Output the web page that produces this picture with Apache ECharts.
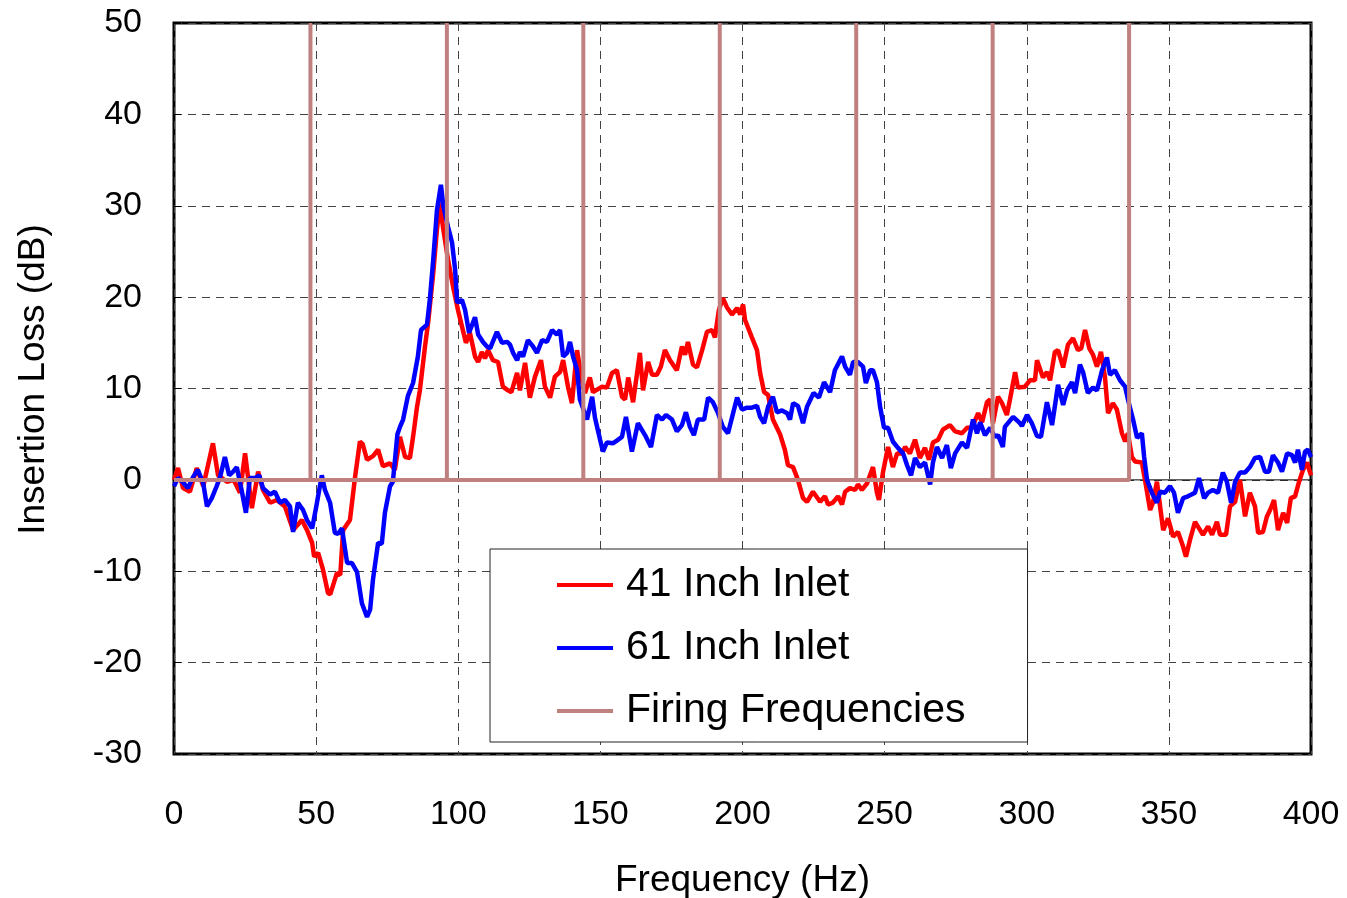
<!DOCTYPE html>
<html>
<head>
<meta charset="utf-8">
<script src="https://cdn.jsdelivr.net/npm/echarts@6/dist/echarts.min.js"></script>
<style>
html,body{margin:0;padding:0;background:#fff;}
#chart{width:1347px;height:898px;}
</style>
</head>
<body>
<div id="chart"></div>
<script>
// ---- Data ----
const red41Freq = [0,1.4,3.2,5.6,8,10.3,13.7,15.5,18.6,21,23.2,25,27.4,29.6,31.3,33.8,36.2,39,41.9,45,46.8,48.6,49.3,50.7,52.4,54.2,55,57.3,58.5,59.5,61.9,63.7,65.4,66.4,67.9,70,71.8,73.5,76,77.7,79.5,81.3,83,84.1,85.5,86.5,88.3,89.4,91.2,92.5,93.6,94.6,96.4,98.2,99.9,101.3,102.7,104.1,105.9,107,108.3,109.4,110.5,112.2,114,115.7,117.5,118.7,120.7,121.7,123.5,125.2,127,129.1,130.5,132.3,134,135.8,136.9,138.6,140,141.1,141.8,143.5,144.6,146.3,147.4,150.6,152.3,154.1,155.8,157.6,158.7,159.8,161.5,163.9,165,166.8,168.2,169.9,171.3,172.7,174.5,176.9,178.7,179.8,180.8,182.6,184,185.8,187.5,189.3,190.3,191.7,193.1,194.5,196.3,198.1,199.2,200.2,200.9,203.3,205.1,206.2,207.6,209,210.7,213.2,214.9,216,217.8,219.5,221.3,222.7,224.8,227.3,229,230.1,231.8,233.6,235,236.1,237.8,239.6,240.6,242,243.8,245.9,247.3,248,249.4,251.2,252.9,254.4,256.1,257.2,258.9,260.7,262.4,264.2,265.6,267,268.8,270.5,273,274.8,277.2,279,280.7,282.9,284.3,286,287.1,288.1,289.9,291.3,293,294.1,295.9,296.9,299.4,301.1,302.9,303.6,305.7,307.1,308.2,309.9,311,312.8,314.5,316.3,318,319.2,320.5,322,323.3,324.7,326.1,327.5,328.6,330.3,331.7,333.5,334.6,335.6,337,338.1,340.5,341.6,343.4,344.4,345.8,346.9,348,349.7,351.5,353.2,355,356,357.4,359.2,361,362,363.8,365.2,366.9,368,370.1,371.5,373.3,375,376.8,378.5,380.3,381.4,383.1,384.5,385.6,387,388.4,390.2,391.6,392.9,394.4,395.8,397.2,398.6,400];
const red41Val = [0,1.3,-0.9,-1.3,1.3,-0.7,4.0,0.5,-0.2,0,-1.4,2.9,-3.1,0.9,-1.1,-2.5,-2.2,-2.9,-5.5,-4.4,-5.5,-6.9,-8.4,-8.0,-9.8,-12.4,-12.5,-10.2,-10.4,-5.5,-4.4,0.3,4.2,3.9,2.2,2.6,3.3,1.5,1.8,1.1,4.7,2.5,2.4,4.7,8.0,9.8,14.6,17.2,22.6,27.4,30.3,27.7,24.1,21.1,18.6,16.8,15.0,16.1,13.5,12.9,14.0,13.3,14.2,13.1,12.9,10.2,9.8,9.6,11.7,9.8,12.8,9.0,11.3,13.1,10.2,9.0,11.3,11.8,13.1,10.2,8.4,12.0,14.2,10.9,9.5,11.2,9.6,10.2,10.1,11.7,12.0,9.1,8.8,11.2,8.5,13.9,9.8,12.9,11.5,11.5,12.4,14.2,13.1,12.0,14.6,13.7,15.1,12.6,12.3,14.2,16.2,16.4,15.6,18.6,19.9,18.9,18.1,18.8,18.1,19.2,17.5,15.6,14.2,11.7,9.6,9.3,6.6,5.0,3.3,1.6,1.4,0.0,-2.0,-2.4,-1.3,-2.4,-1.8,-2.7,-2.5,-1.8,-2.7,-1.3,-0.9,-1.1,-0.5,-1.1,-0.4,1.4,-1.4,-2.2,0.8,3.6,1.4,2.9,2.9,3.6,2.9,4.4,2.4,3.5,2.2,4.1,4.4,5.5,6.0,5.3,5.1,5.7,5.7,7.3,6.3,8.5,8.8,6.2,9.1,8.4,7.1,8.8,11.8,10.1,10.2,10.9,10.9,13.1,11.2,11.8,10.9,14.0,14.2,12.3,14.8,15.5,14.2,14.4,16.4,14.4,13.7,12.4,14.0,11.3,7.3,8.4,7.7,5.1,4.2,5.1,2.5,2.0,1.9,0,-3.3,-2.5,-0.2,-2.9,-5.5,-4.2,-6.2,-5.7,-7.3,-8.4,-6.6,-4.6,-5.5,-6.0,-5.1,-6.0,-4.6,-6.0,-6.0,-2.9,-2.4,0,-4.0,-1.4,-2.9,-5.8,-5.7,-4.0,-3.3,-2.2,-5.5,-3.6,-4.7,-2.0,-1.8,-0.2,1.1,1.9,0.5];

const blue61Freq = [0,1.4,3,4.9,6.7,8.4,10.3,11.6,13.3,15,16.2,17.9,19.4,20.8,22.1,23.9,25.3,26.7,28.5,30,31.3,33.8,35.5,37.3,39,40.8,41.9,43.6,45.4,46.8,48.6,50.3,52,53.1,54.9,56.6,57.7,59.1,60.9,62.6,64.4,66.1,67.9,69,70,71.8,73.1,74.2,76,77,78.6,79.5,80.6,82.3,84.1,85.8,86.9,89,90,91.2,92.5,93.9,94.8,96.4,97.8,98.9,99.6,101.3,102.4,103.8,105.9,107,108.7,110.1,111.2,113.6,115.4,117.2,118.2,119.3,120.7,121.7,122.8,124.5,126.3,127.7,129.5,131.2,133,134.7,135.8,136.9,138.3,139.3,140.4,141.8,142.8,145.3,147.1,148.1,149.9,150.9,152.3,154.4,155.8,157.6,159,161.1,163.2,165.7,167.8,169.9,171.7,173.1,175.2,176.9,178.7,180.1,181.5,182.9,184.3,186.5,187.9,189.6,191.4,193.1,194.9,196.7,198.1,199.8,201.6,203.3,205.1,206.2,207.6,209,210.7,212.1,213.9,215.7,216.7,217.8,219.5,221.3,222.7,225,226.9,228.7,230.8,232.5,235,236.1,237.8,238.9,240.6,242.4,243.4,244.9,245.9,247.3,248.4,249.8,251.2,252.9,254.7,256.5,257.9,259.3,260.7,262.4,264.2,266,267,268.4,270.2,271.9,273.3,274.8,277.2,279,281.1,282.5,283.6,285.3,287.1,288.8,289.9,291.6,292.3,295.2,297.6,298.3,300.1,301.8,303.6,305,307.1,308.9,311,312.8,314.2,315.9,317,318.7,319.8,321.5,323.3,324.7,326.5,328.2,329.3,331,332.8,334.6,335.6,337.4,338.8,340.5,341.3,342.3,344,345.8,346.9,348.6,350.4,351.8,353.2,355,356.7,359.2,360.6,362.4,363.8,365.5,367.3,369,370.4,371.9,373.3,375,376.8,378.5,380.3,382.1,383.8,385.2,386.6,388.4,389.8,391.6,393.3,394.4,395.4,396.8,397.9,398.9,400];
const blue61Val = [-0.7,0.2,-0.2,-0.9,0.3,1.1,-0.4,-2.9,-2.0,-0.7,0.3,2.5,0.5,0.9,1.4,-1.3,-3.6,0.2,0.2,0.5,-0.9,-1.6,-1.3,-2.5,-2.2,-2.9,-5.7,-2.5,-3.3,-4.4,-5.3,-2.5,0.5,-1.1,-2.5,-5.8,-5.9,-5.3,-9.1,-9.1,-10.1,-13.5,-15.0,-14.2,-10.9,-6.9,-7.0,-3.6,-0.7,-0.2,5.0,5.8,6.6,9.2,10.6,13.5,16.4,17.0,19.7,24.1,29.5,32.3,29.9,27.7,26.0,23.0,19.4,19.7,18.6,16.1,17.8,15.9,15.1,14.6,14.4,16.2,15.0,15.1,14.8,13.9,13.1,14.0,13.5,15.3,14.6,13.9,15.3,15.1,16.4,15.9,16.4,13.5,13.9,15.1,13.5,12.0,8.8,6.6,9.1,6.8,4.4,3.1,4.1,4.0,4.3,4.7,6.9,3.1,6.2,4.9,3.6,7.1,6.6,7.1,6.6,5.3,6.0,7.4,5.8,4.9,6.6,6.6,9.0,8.5,7.3,5.8,5.1,7.3,9.0,7.7,7.9,7.9,8.1,6.9,6.2,8.0,9.1,7.4,7.6,7.3,6.6,8.4,8.1,6.2,8.0,9.5,9.0,10.7,9.6,12.0,13.5,12.4,11.5,12.9,12.9,12.4,10.6,12.0,12.0,10.7,8.0,5.7,5.7,4.2,3.5,2.9,1.6,0.5,2.4,1.4,1.9,-0.5,1.9,3.6,2.4,3.8,1.3,2.9,4.1,3.5,6.6,5.1,6.3,4.9,5.7,4.7,4.9,3.6,5.8,6.9,6.2,5.9,7.1,6.2,4.8,4.7,8.5,6.0,10.4,8.2,9.8,10.7,9.5,12.6,11.8,9.5,10.1,9.8,12.0,13.4,11.5,12.0,10.9,10.2,8.8,6.6,4.6,5.1,2.5,0,-1.4,-2.5,-1.3,-1.4,-0.7,-1.4,-3.6,-2.0,-1.8,-1.4,0.2,-2.0,-1.4,-1.1,-1.4,0.8,-0.2,-2.5,-0.2,0.8,0.8,1.4,2.4,2.5,0.9,0.9,2.7,1.9,0.9,2.9,2.7,1.9,3.3,1.1,3.1,3.3,2.5];

const firingFreqs = [48, 96, 144, 192, 240, 288, 336];
const firingBase = 0;
const firingTop = 50;
const zeroLineX = [0, 400];

const xTicks = {min: 0, max: 400, interval: 50};
const yTicks = {min: -30, max: 50, interval: 10};

// ---- Build series data ----
const zip = (a, b) => a.map((v, i) => [v, b[i]]);
const firingData = [[0, firingBase]];
firingFreqs.forEach(f => {
  firingData.push([f, firingBase], [f, firingTop], [f, firingBase]);
});
const zeroData = zeroLineX.map(x => [x, 0]);

const FONT = "'Liberation Sans', Arial, sans-serif";
const chart = echarts.init(document.getElementById('chart'), null, {renderer: 'canvas'});
chart.setOption({
  animation: false,
  backgroundColor: '#fff',
  grid: {left: 174, right: 36, top: 23, bottom: 144, containLabel: false, outerBoundsMode: 'none',
         show: true, borderColor: '#000', borderWidth: 3, backgroundColor: 'transparent'},
  xAxis: {
    type: 'value', min: xTicks.min, max: xTicks.max, interval: xTicks.interval,
    axisLine: {show: false}, axisTick: {show: false},
    splitLine: {show: true, lineStyle: {color: '#444', type: [8, 6], width: 1}},
    axisLabel: {fontSize: 34, color: '#000', margin: 44, fontFamily: FONT},
    name: 'Frequency (Hz)', nameLocation: 'middle', nameGap: 108,
    nameTextStyle: {fontSize: 37, color: '#000', fontFamily: FONT}
  },
  yAxis: {
    type: 'value', min: yTicks.min, max: yTicks.max, interval: yTicks.interval,
    axisLine: {show: false},
    axisTick: {show: true, inside: true, length: 7, lineStyle: {color: '#000', width: 1}},
    splitLine: {show: true, lineStyle: {color: '#444', type: [8, 6], width: 1}},
    axisLabel: {fontSize: 34, color: '#000', margin: 32, fontFamily: FONT, padding: [10, 0, 0, 0]},
    name: 'Insertion Loss (dB)', nameLocation: 'middle', nameGap: 122, nameRotate: 90,
    nameTextStyle: {fontSize: 37, color: '#000', fontFamily: FONT, padding: [0, 0, 0, 18]}
  },
  legend: {
    data: ['41 Inch Inlet', '61 Inch Inlet', 'Firing Frequencies'],
    orient: 'vertical', left: 490, top: 549,
    padding: [12, 62, 7, 67],
    itemGap: 15, itemWidth: 56, itemHeight: 4, icon: 'rect',
    backgroundColor: '#fff', borderColor: '#222', borderWidth: 1,
    textStyle: {fontSize: 41, color: '#000', fontFamily: FONT, lineHeight: 48, padding: [0, 0, 0, 8]}
  },
  series: [
    {name: 'zero', type: 'line', data: zeroData, showSymbol: false, symbol: 'none', silent: true,
     lineStyle: {color: '#000', width: 1}, z: 1},
    {name: '41 Inch Inlet', type: 'line', data: zip(red41Freq, red41Val), symbol: 'none',
     lineStyle: {color: '#FF0000', width: 4.5}, itemStyle: {color: '#FF0000'}, z: 2},
    {name: '61 Inch Inlet', type: 'line', data: zip(blue61Freq, blue61Val), symbol: 'none',
     lineStyle: {color: '#0000FF', width: 4.5}, itemStyle: {color: '#0000FF'}, z: 3},
    {name: 'Firing Frequencies', type: 'line', data: firingData, symbol: 'none',
     lineStyle: {color: '#C08080', width: 4}, itemStyle: {color: '#C08080'}, z: 4}
  ]
});
</script>
</body>
</html>
